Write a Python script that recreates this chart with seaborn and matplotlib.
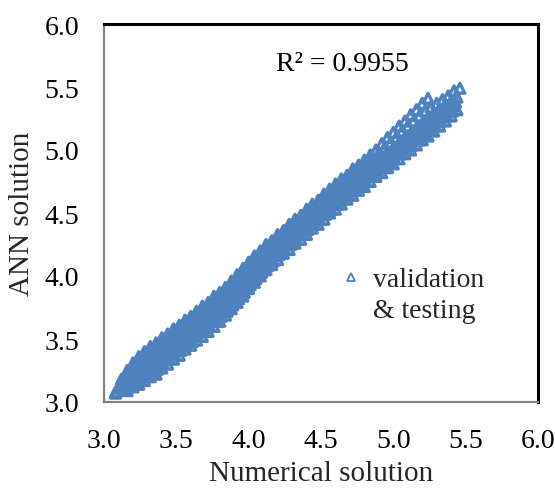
import matplotlib
matplotlib.use("Agg")
import matplotlib.pyplot as plt
from matplotlib.lines import Line2D
import seaborn as sns
import pandas as pd

# ---- data ----
# strand U (upper edge)
num_u = [3.08, 3.12, 3.16, 3.20, 3.24, 3.28, 3.32, 3.36, 3.40, 3.44, 3.48, 3.52, 3.56, 3.60, 3.64,
         3.68, 3.72, 3.76, 3.80, 3.84, 3.88, 3.92, 3.96, 4.00, 4.04, 4.08, 4.12, 4.16, 4.20, 4.24,
         4.28, 4.32, 4.36, 4.40, 4.44, 4.48, 4.52, 4.56, 4.60, 4.64, 4.68, 4.72, 4.76, 4.80, 4.84,
         4.88, 4.92, 4.96, 5.00, 5.04, 5.08, 5.12, 5.16, 5.20, 5.24]
ann_u = [3.08, 3.18, 3.25, 3.31, 3.36, 3.40, 3.44, 3.47, 3.51, 3.54, 3.58, 3.61, 3.65, 3.68, 3.72,
         3.76, 3.79, 3.84, 3.87, 3.91, 3.96, 4.01, 4.06, 4.11, 4.16, 4.20, 4.25, 4.28, 4.33, 4.36,
         4.41, 4.45, 4.48, 4.53, 4.57, 4.60, 4.65, 4.69, 4.73, 4.77, 4.80, 4.85, 4.88, 4.92, 4.96,
         5.00, 5.05, 5.10, 5.14, 5.19, 5.23, 5.28, 5.32, 5.37, 5.41]
# strand N1
num_n1 = [3.13, 3.17, 3.21, 3.25, 3.29, 3.33, 3.37, 3.41, 3.45, 3.49, 3.53, 3.57, 3.61, 3.65, 3.69,
          3.73, 3.77, 3.81, 3.85, 3.89, 3.93, 3.97, 4.01, 4.05, 4.09, 4.13, 4.17, 4.21, 4.25, 4.29,
          4.33, 4.37, 4.41, 4.45, 4.49, 4.53, 4.57, 4.61, 4.65, 4.69, 4.73, 4.77, 4.81, 4.85]
ann_n1 = [3.18, 3.25, 3.30, 3.34, 3.38, 3.42, 3.45, 3.49, 3.52, 3.56, 3.59, 3.63, 3.66, 3.70, 3.74,
          3.77, 3.82, 3.85, 3.90, 3.95, 4.00, 4.05, 4.10, 4.15, 4.19, 4.23, 4.27, 4.31, 4.36, 4.39,
          4.44, 4.47, 4.52, 4.55, 4.60, 4.63, 4.68, 4.71, 4.76, 4.79, 4.83, 4.87, 4.91, 4.94]
# strand M1
num_m1 = [3.10, 3.14, 3.18, 3.22, 3.26, 3.30, 3.34, 3.38, 3.42, 3.46, 3.50, 3.54, 3.58, 3.62, 3.66,
          3.70, 3.74, 3.78, 3.82, 3.86, 3.90, 3.94, 3.98, 4.02, 4.06, 4.10, 4.14, 4.18, 4.22, 4.26,
          4.30, 4.34, 4.38, 4.42, 4.46, 4.50, 4.54, 4.58, 4.62, 4.66, 4.70, 4.74, 4.78, 4.82, 4.86,
          4.90, 4.94, 4.98, 5.02, 5.06, 5.10, 5.14, 5.18, 5.22, 5.26, 5.30, 5.34, 5.38, 5.42, 5.46]
ann_m1 = [3.11, 3.17, 3.23, 3.28, 3.32, 3.36, 3.40, 3.43, 3.47, 3.50, 3.54, 3.57, 3.61, 3.64, 3.68,
          3.72, 3.75, 3.80, 3.83, 3.88, 3.93, 3.98, 4.03, 4.08, 4.13, 4.18, 4.22, 4.26, 4.30, 4.35,
          4.38, 4.43, 4.46, 4.51, 4.54, 4.59, 4.62, 4.67, 4.70, 4.75, 4.78, 4.82, 4.86, 4.90, 4.93,
          4.98, 5.02, 5.06, 5.10, 5.15, 5.19, 5.23, 5.27, 5.31, 5.34, 5.37, 5.40, 5.43, 5.47, 5.49]
# strand M2 (middle)
num_m2 = [3.08, 3.12, 3.16, 3.20, 3.24, 3.28, 3.32, 3.36, 3.40, 3.44, 3.48, 3.52, 3.56, 3.60, 3.64,
          3.68, 3.72, 3.76, 3.80, 3.84, 3.88, 3.92, 3.96, 4.00, 4.04, 4.08, 4.12, 4.16, 4.20, 4.24,
          4.28, 4.32, 4.36, 4.40, 4.44, 4.48, 4.52, 4.56, 4.60, 4.64, 4.68, 4.72, 4.76, 4.80, 4.84,
          4.88, 4.92, 4.96, 5.00, 5.04, 5.08, 5.12, 5.16, 5.20, 5.24, 5.28, 5.32, 5.36, 5.40, 5.44]
ann_m2 = [3.07, 3.11, 3.16, 3.21, 3.24, 3.28, 3.31, 3.35, 3.38, 3.42, 3.46, 3.49, 3.53, 3.56, 3.60,
          3.64, 3.68, 3.71, 3.76, 3.79, 3.84, 3.89, 3.94, 3.99, 4.04, 4.10, 4.14, 4.19, 4.23, 4.27,
          4.32, 4.35, 4.40, 4.43, 4.48, 4.52, 4.55, 4.60, 4.63, 4.68, 4.71, 4.75, 4.79, 4.83, 4.86,
          4.91, 4.94, 4.98, 5.02, 5.06, 5.10, 5.13, 5.17, 5.21, 5.25, 5.29, 5.32, 5.36, 5.39, 5.42]
# strand N2
num_n2 = [3.15, 3.19, 3.23, 3.27, 3.31, 3.35, 3.39, 3.43, 3.47, 3.51, 3.55, 3.59, 3.63, 3.67, 3.71,
          3.75, 3.79, 3.83, 3.87, 3.91, 3.95, 3.99, 4.03, 4.07, 4.11, 4.15, 4.19, 4.23, 4.27, 4.31,
          4.35, 4.39, 4.43, 4.47, 4.51, 4.55, 4.59, 4.63, 4.67, 4.71, 4.75, 4.79, 4.83, 4.87, 4.91,
          4.95, 4.99, 5.03, 5.07, 5.11, 5.15, 5.19, 5.23, 5.27, 5.31, 5.35, 5.39, 5.43]
ann_n2 = [3.13, 3.17, 3.20, 3.24, 3.27, 3.31, 3.34, 3.38, 3.41, 3.45, 3.49, 3.52, 3.56, 3.60, 3.63,
          3.67, 3.71, 3.75, 3.80, 3.85, 3.90, 3.95, 4.00, 4.06, 4.10, 4.15, 4.19, 4.24, 4.28, 4.32,
          4.36, 4.40, 4.44, 4.48, 4.52, 4.56, 4.60, 4.64, 4.68, 4.71, 4.75, 4.79, 4.83, 4.87, 4.90,
          4.94, 4.98, 5.01, 5.05, 5.09, 5.12, 5.16, 5.20, 5.24, 5.27, 5.31, 5.35, 5.38]
# strand M3
num_m3 = [3.14, 3.18, 3.22, 3.26, 3.30, 3.34, 3.38, 3.42, 3.46, 3.50, 3.54, 3.58, 3.62, 3.66, 3.70,
          3.74, 3.78, 3.82, 3.86, 3.90, 3.94, 3.98, 4.02, 4.06, 4.10, 4.14, 4.18, 4.22, 4.26, 4.30,
          4.34, 4.38, 4.42, 4.46, 4.50, 4.54, 4.58, 4.62, 4.66, 4.70, 4.74, 4.78, 4.82, 4.86, 4.90,
          4.94, 4.98, 5.02, 5.06, 5.10, 5.14, 5.18, 5.22, 5.26, 5.30, 5.34, 5.38, 5.42]
ann_m3 = [3.11, 3.14, 3.17, 3.20, 3.23, 3.27, 3.30, 3.34, 3.37, 3.41, 3.45, 3.48, 3.52, 3.56, 3.59,
          3.64, 3.67, 3.72, 3.76, 3.81, 3.86, 3.91, 3.97, 4.02, 4.07, 4.12, 4.16, 4.20, 4.25, 4.28,
          4.33, 4.36, 4.41, 4.44, 4.49, 4.52, 4.57, 4.60, 4.64, 4.68, 4.71, 4.76, 4.79, 4.83, 4.86,
          4.90, 4.94, 4.97, 5.01, 5.05, 5.08, 5.12, 5.16, 5.20, 5.23, 5.27, 5.31, 5.35]
# strand N3
num_n3 = [3.17, 3.21, 3.25, 3.29, 3.33, 3.37, 3.41, 3.45, 3.49, 3.53, 3.57, 3.61, 3.65, 3.69, 3.73,
          3.77, 3.81, 3.85, 3.89, 3.93, 3.97, 4.01, 4.05, 4.09, 4.13, 4.17, 4.21, 4.25, 4.29, 4.33,
          4.37, 4.41, 4.45, 4.49, 4.53, 4.57, 4.61, 4.65, 4.69, 4.73, 4.77, 4.81, 4.85, 4.89, 4.93,
          4.97, 5.01, 5.05, 5.09, 5.13, 5.17, 5.21, 5.25, 5.29, 5.33, 5.37, 5.41]
ann_n3 = [3.12, 3.15, 3.17, 3.20, 3.24, 3.26, 3.30, 3.34, 3.37, 3.41, 3.45, 3.48, 3.52, 3.56, 3.60,
          3.64, 3.68, 3.72, 3.77, 3.82, 3.87, 3.93, 3.98, 4.03, 4.08, 4.12, 4.17, 4.21, 4.25, 4.29,
          4.33, 4.37, 4.41, 4.45, 4.49, 4.53, 4.57, 4.61, 4.65, 4.68, 4.72, 4.75, 4.79, 4.83, 4.86,
          4.90, 4.93, 4.97, 5.01, 5.04, 5.08, 5.12, 5.16, 5.19, 5.23, 5.27, 5.31]
# strand L (lower edge)
num_l = [3.16, 3.20, 3.24, 3.28, 3.32, 3.36, 3.40, 3.44, 3.48, 3.52, 3.56, 3.60, 3.64, 3.68, 3.72,
         3.76, 3.80, 3.84, 3.88, 3.92, 3.96, 4.00, 4.04, 4.08, 4.12, 4.16, 4.20, 4.24, 4.28, 4.32,
         4.36, 4.40, 4.44, 4.48, 4.52, 4.56, 4.60, 4.64, 4.68, 4.72, 4.76, 4.80, 4.84, 4.88, 4.92,
         4.96, 5.00, 5.04, 5.08, 5.12, 5.16, 5.20, 5.24, 5.28, 5.32, 5.36, 5.40, 5.44]
ann_l = [3.09, 3.12, 3.14, 3.17, 3.20, 3.22, 3.27, 3.30, 3.34, 3.37, 3.42, 3.45, 3.49, 3.52, 3.56,
         3.60, 3.64, 3.69, 3.74, 3.79, 3.84, 3.90, 3.95, 4.00, 4.05, 4.09, 4.13, 4.18, 4.21, 4.26,
         4.29, 4.33, 4.38, 4.41, 4.45, 4.50, 4.53, 4.57, 4.61, 4.64, 4.68, 4.71, 4.75, 4.79, 4.82,
         4.86, 4.89, 4.93, 4.97, 5.00, 5.04, 5.08, 5.11, 5.15, 5.19, 5.23, 5.27, 5.32]

ticks = [3.0, 3.5, 4.0, 4.5, 5.0, 5.5, 6.0]
tick_labels = ["3.0", "3.5", "4.0", "4.5", "5.0", "5.5", "6.0"]
x_label = "Numerical solution"
y_label = "ANN solution"
r2_text = "R² = 0.9955"
legend_lines = ["validation", "& testing"]

BLUE = "#4F81BD"

df = pd.DataFrame({
    "Numerical": num_u + num_n1 + num_m1 + num_m2 + num_n2 + num_m3 + num_n3 + num_l,
    "ANN": ann_u + ann_n1 + ann_m1 + ann_m2 + ann_n2 + ann_m3 + ann_n3 + ann_l,
})

sns.set_style("white")
plt.rcParams["font.family"] = ["Liberation Serif", "DejaVu Serif"]

fig = plt.figure(figsize=(5.55, 4.89), dpi=100)
ax = fig.add_axes([104 / 555, 1 - 403 / 489, (538 - 104) / 555, (403 - 25) / 489])

sns.scatterplot(data=df, x="Numerical", y="ANN", marker="^", s=50,
                facecolor="none", edgecolor=BLUE, linewidth=2.4, ax=ax,
                legend=False)

ax.set_xlim(3.0, 6.0)
ax.set_ylim(3.0, 6.0)
ax.set_xticks(ticks)
ax.set_xticklabels(tick_labels)
ax.set_yticks(ticks)
ax.set_yticklabels(tick_labels)
ax.tick_params(axis="both", length=0, labelsize=20, colors="black")
ax.tick_params(axis="x", pad=19)
ax.tick_params(axis="y", pad=18)

ax.set_xlabel(x_label, fontsize=21, labelpad=5)
ax.set_ylabel(y_label, fontsize=21, labelpad=7)

for side in ["top", "right"]:
    ax.spines[side].set_color("black")
    ax.spines[side].set_linewidth(2.2)
for side in ["left", "bottom"]:
    ax.spines[side].set_color("#808080")
    ax.spines[side].set_linewidth(1.6)

ax.text(4.19, 5.69, r2_text, fontsize=20, ha="left", va="center", color="black")

h_marker = Line2D([], [], linestyle="none", marker="^", markersize=6,
                  markerfacecolor="none", markeredgecolor=BLUE, markeredgewidth=1.3)
h_blank = Line2D([], [], linestyle="none", marker=None)
leg = ax.legend([h_marker, h_blank], legend_lines, loc="upper left",
                bbox_to_anchor=(341 / 555, 1 - 268 / 489), bbox_transform=fig.transFigure,
                frameon=False, fontsize=20, handlelength=0.7, handletextpad=0.45,
                labelspacing=0.2, borderpad=0, borderaxespad=0)

fig.savefig("out.png", dpi=100)
